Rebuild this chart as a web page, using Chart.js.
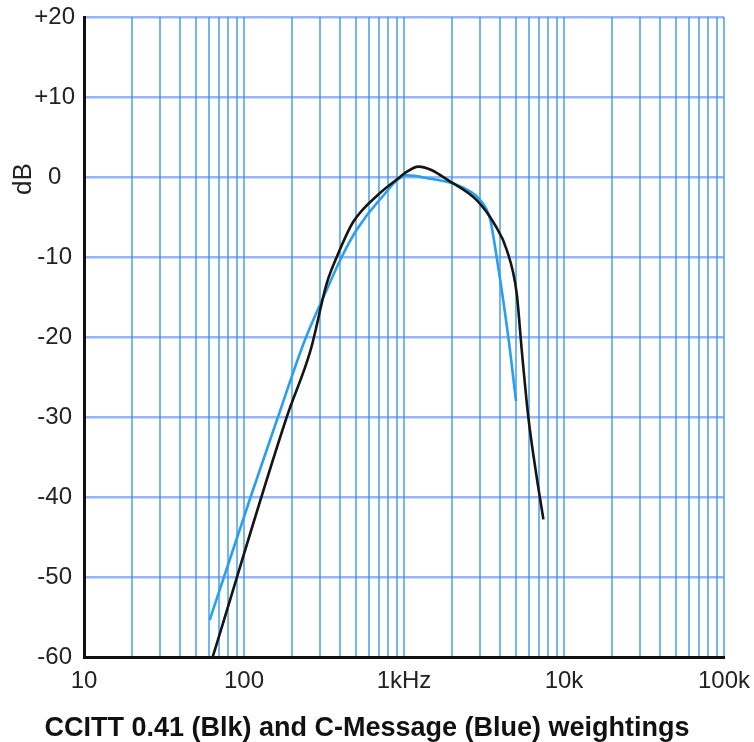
<!DOCTYPE html>
<html>
<head>
<meta charset="utf-8">
<script src="https://cdn.jsdelivr.net/npm/chart.js@4.4.1/dist/chart.umd.min.js"></script>
<style>
  html, body { margin: 0; padding: 0; background: #fff; }
</style>
</head>
<body>
<canvas id="myChart" width="754" height="742"></canvas>
<script>
// CCITT O.41 psophometric weighting (black)
var ccittFreq = [63.7, 185, 261, 329, 380, 482, 708, 944, 1014, 1232, 2030, 2846, 3705, 4385, 5059, 5442, 5983, 6749, 7436];
var ccittDb   = [-60, -30, -21.6, -13.3, -10, -5.6, -2.0, 0, 0.5, 1.3, -0.8, -2.9, -6, -9.1, -14.5, -21.6, -30, -37.5, -42.8];

// C-Message weighting (blue)
var cmsgFreq = [61, 110, 163, 240, 329, 408, 506, 708, 1040, 1454, 2030, 2585, 3000, 3447, 3793, 4487, 5012];
var cmsgDb   = [-55.4, -40, -30, -20.4, -14.1, -10, -6.6, -2.8, 0.2, -0.2, -0.8, -1.8, -2.9, -5.2, -10, -20, -28];

// axis ticks
var xGridValues = [10, 20, 30, 40, 50, 60, 70, 80, 90,
                   100, 200, 300, 400, 500, 600, 700, 800, 900,
                   1000, 2000, 3000, 4000, 5000, 6000, 7000, 8000, 9000,
                   10000, 20000, 30000, 40000, 50000, 60000, 70000, 80000, 90000, 100000];
var xLabelValues = [10, 100, 1000, 10000, 100000];
var xTickLabels  = ['10', '100', '1kHz', '10k', '100k'];
var yTickValues  = [20, 10, 0, -10, -20, -30, -40, -50, -60];
var yTickLabels  = ['+20', '+10', '0', '-10', '-20', '-30', '-40', '-50', '-60'];

var FONT = '"Liberation Sans", Arial, Helvetica, sans-serif';

function toPoints(xs, ys) {
  return xs.map(function(f, i) { return {x: f, y: ys[i]}; });
}

// "dB" label sits beside the 0 dB line, not centred on the axis
var dbLabel = {
  id: 'dbLabel',
  afterDraw: function(chart) {
    var ctx = chart.ctx;
    var y = chart.scales.y.getPixelForValue(0);
    ctx.save();
    ctx.translate(24, y + 2);
    ctx.rotate(-Math.PI / 2);
    ctx.font = '26px ' + FONT;
    ctx.fillStyle = '#222';
    ctx.textAlign = 'center';
    ctx.textBaseline = 'middle';
    ctx.fillText('dB', 0, 0);
    ctx.restore();
  }
};

var weightChart;

function drawChart() {
  var ctx = document.getElementById('myChart');

  weightChart = new Chart(ctx, {
    type: 'line',
    data: {
      datasets: [{
        label: 'CCITT 0.41',
        data: toPoints(ccittFreq, ccittDb),
        borderColor: '#151515',
        borderWidth: 2.6,
        pointRadius: 0,
        cubicInterpolationMode: 'monotone',
        fill: false
      }, {
        label: 'C-Message',
        data: toPoints(cmsgFreq, cmsgDb),
        borderColor: '#2a9ef0',
        borderWidth: 2.6,
        pointRadius: 0,
        cubicInterpolationMode: 'monotone',
        fill: false
      }]
    },
    options: {
      responsive: false,
      animation: false,
      layout: {
        padding: {top: 17, right: 30, left: 10, bottom: 0}
      },
      plugins: {
        legend: {display: false},
        tooltip: {enabled: false},
        title: {
          display: true,
          position: 'bottom',
          text: 'CCITT 0.41 (Blk) and C-Message (Blue) weightings',
          color: '#111',
          font: {family: FONT, size: 27, weight: 'bold', lineHeight: 1},
          padding: {top: 20, bottom: 0}
        }
      },
      scales: {
        x: {
          type: 'logarithmic',
          min: 10,
          max: 100000,
          afterBuildTicks: function(scale) {
            scale.ticks = xGridValues.map(function(v) { return {value: v}; });
          },
          afterFit: function(scale) {
            scale.height = 38;
            scale.paddingLeft = 0;
            scale.paddingRight = 0;
          },
          grid: {
            color: 'rgba(60, 150, 232, 0.7)',
            lineWidth: 2,
            drawTicks: false
          },
          border: {color: '#111', width: 3},
          ticks: {
            autoSkip: false,
            maxRotation: 0,
            padding: 10,
            color: '#222',
            font: {family: FONT, size: 24},
            callback: function(value) {
              var i = xLabelValues.indexOf(value);
              return i >= 0 ? xTickLabels[i] : '';
            }
          }
        },
        y: {
          type: 'linear',
          min: -60,
          max: 20,
          afterBuildTicks: function(scale) {
            scale.ticks = yTickValues.map(function(v) { return {value: v}; });
          },
          afterFit: function(scale) {
            scale.width = 74;
            scale.paddingTop = 0;
            scale.paddingBottom = 0;
          },
          grid: {
            color: 'rgba(80, 135, 240, 0.6)',
            lineWidth: 2.5,
            drawTicks: false
          },
          border: {color: '#111', width: 3},
          ticks: {
            padding: 9,
            crossAlign: 'center',
            color: '#222',
            font: {family: FONT, size: 24},
            callback: function(value) {
              var i = yTickValues.indexOf(value);
              return i >= 0 ? yTickLabels[i] : '';
            }
          }
        }
      }
    },
    plugins: [dbLabel]
  });
}

window.onload = function() {
  drawChart();
};
</script>
</body>
</html>
